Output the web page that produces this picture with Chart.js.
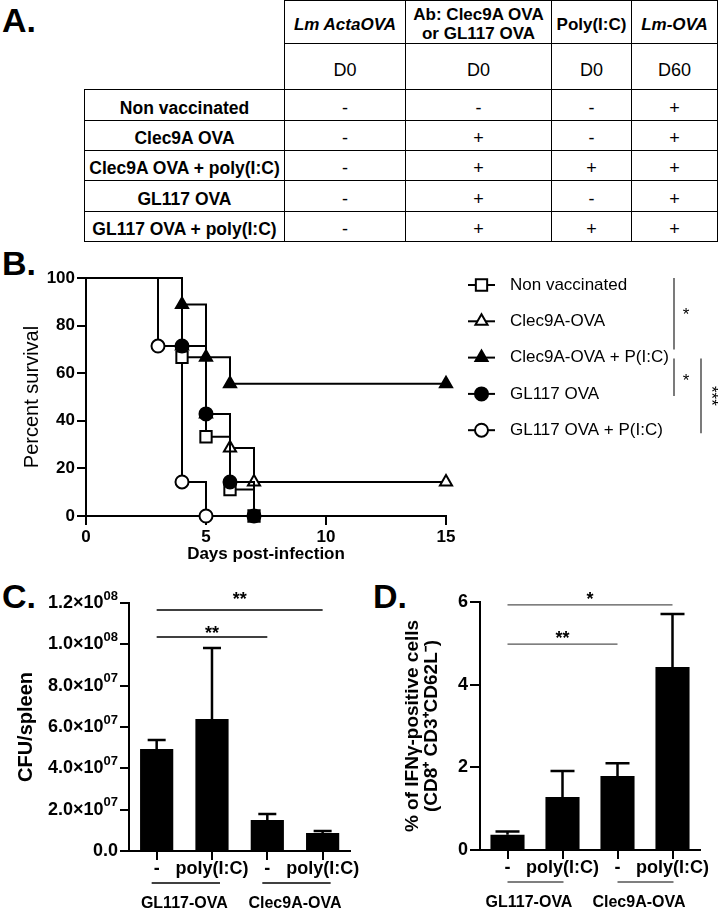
<!DOCTYPE html>
<html>
<head>
<meta charset="utf-8">
<script src="https://cdn.jsdelivr.net/npm/chart.js@4.4.1/dist/chart.umd.min.js"></script>
<style>
body { margin: 0; background: #fff; }
#page { position: relative; width: 719px; height: 910px; overflow: hidden;
        font-family: "Liberation Sans", Arial, sans-serif; color: #000; }
.letter { position: absolute; font-size: 34px; font-weight: bold; line-height: 1; }
canvas { position: absolute; }
#tbl { position: absolute; left: 84px; top: 0; border-collapse: collapse; table-layout: fixed; }
#tbl td { border: 1px solid #000; text-align: center; padding: 6px 0 0 0; font-size: 18px; line-height: 21px; }
#tbl td.blank { border: none; }
#tbl tr.head td { font-weight: bold; font-size: 17px; line-height: 19px; white-space: pre-line; padding-top: 4px; }
#tbl tr.days td { padding-top: 8px; }
#tbl td.group { font-weight: bold; font-size: 17.5px; white-space: nowrap; }
</style>
</head>
<body>
<div id="page">
  <div class="letter" style="left:2px;top:3px">A.</div>
  <div class="letter" style="left:2px;top:246px">B.</div>
  <div class="letter" style="left:2px;top:579px">C.</div>
  <div class="letter" style="left:373px;top:579px">D.</div>
  <table id="tbl"></table>
  <canvas id="km" width="719" height="320" style="left:0;top:250px"></canvas>
  <canvas id="cfu" width="360" height="340" style="left:0;top:570px"></canvas>
  <canvas id="ifn" width="359" height="340" style="left:360px;top:570px"></canvas>
</div>
<script>
// A. vaccination scheme
var tableHeads = ['Lm ActaOVA', 'Ab: Clec9A OVA\nor GL117 OVA', 'Poly(I:C)', 'Lm-OVA'];
var tableItalic = [true, false, false, true];
var tableDays = ['D0', 'D0', 'D0', 'D60'];
var tableGroups = ['Non vaccinated', 'Clec9A OVA', 'Clec9A OVA + poly(I:C)', 'GL117 OVA', 'GL117 OVA + poly(I:C)'];
var tableMarks = [
  ['-', '-', '-', '+'],
  ['-', '+', '-', '+'],
  ['-', '+', '+', '+'],
  ['-', '+', '-', '+'],
  ['-', '+', '+', '+']
];

// B. survival (Kaplan-Meier steps)
var kmLabels = ['Non vaccinated', 'Clec9A-OVA', 'Clec9A-OVA + P(I:C)', 'GL117 OVA', 'GL117 OVA + P(I:C)'];
var daysNonVacc = [0, 4, 5, 6, 7];
var survNonVacc = [100, 66.7, 33.3, 11.1, 0];
var daysClec = [0, 4, 5, 6, 7, 15];
var survClec = [100, 71.4, 42.9, 28.6, 14.3, 14.3];
var daysClecPIC = [0, 4, 5, 6, 15];
var survClecPIC = [100, 88.9, 66.7, 55.6, 55.6];
var daysGL = [0, 4, 5, 6, 7];
var survGL = [100, 71.4, 42.9, 14.3, 0];
var daysGLPIC = [0, 3, 4, 5];
var survGLPIC = [100, 71.4, 14.3, 0];

// C. / D. bars
var barLabels = ['-', 'poly(I:C)', '-', 'poly(I:C)'];
var barGroups = ['GL117-OVA', 'Clec9A-OVA'];
var cfuMean = [4.93e7, 6.39e7, 1.50e7, 0.87e7];
var cfuSem = [0.44e7, 3.43e7, 0.29e7, 0.10e7];
var ifnMean = [0.37, 1.28, 1.79, 4.43];
var ifnSem = [0.08, 0.63, 0.31, 1.28];

var cfuSig = [{from: 0, to: 3, level: 1.166e8, text: '**', lift: 15},
              {from: 0, to: 2, level: 1.035e8, text: '**', lift: 9}];
var ifnSig = [{from: 0, to: 3, level: 5.93, text: '*', lift: 10},
              {from: 0, to: 2, level: 4.98, text: '**', lift: 11}];

var fam = '"Liberation Sans", Arial, sans-serif';
Chart.defaults.font.family = fam;
Chart.defaults.color = '#000';

// table
var tbl = document.getElementById('tbl');
var colW = [200, 121, 146, 80, 86];
var cg = document.createElement('colgroup');
colW.forEach(function (w) {
  var c = document.createElement('col');
  c.style.width = w + 'px';
  cg.appendChild(c);
});
tbl.appendChild(cg);

function addRow(cells, h, cls, firstCls) {
  var tr = document.createElement('tr');
  tr.style.height = h + 'px';
  if (cls) tr.className = cls;
  cells.forEach(function (txt, i) {
    var td = document.createElement('td');
    td.textContent = txt;
    if (i === 0 && firstCls) td.className = firstCls;
    if (cls === 'head' && i > 0 && tableItalic[i - 1]) td.style.fontStyle = 'italic';
    tr.appendChild(td);
  });
  tbl.appendChild(tr);
}
addRow([''].concat(tableHeads), 43, 'head', 'blank');
addRow([''].concat(tableDays), 46, 'days', 'blank');
var rowH = [31, 30, 30, 31, 30];
tableGroups.forEach(function (g, i) {
  addRow([g].concat(tableMarks[i]), rowH[i], '', 'group');
});

// B
function kmSet(label, days, surv, style, size, filled, order) {
  return {
    label: label,
    data: days.map(function (d, i) { return {x: d, y: surv[i]}; }),
    stepped: true,
    borderColor: '#000',
    borderWidth: 2,
    pointStyle: style,
    pointRadius: days.map(function (d, i) { return i === 0 ? 0 : size; }),
    pointBackgroundColor: filled ? '#000' : '#fff',
    pointBorderColor: '#000',
    pointBorderWidth: 2,
    clip: false,
    order: order
  };
}

function marker(ctx, style, r, x, y) {
  if (Chart.helpers && Chart.helpers.drawPoint) {
    Chart.helpers.drawPoint(ctx, {pointStyle: style, radius: r, borderWidth: 2, rotation: 0}, x, y);
  }
}

var legendY0 = 35, legendStep = 36.3;
function legendY(i) { return legendY0 + i * legendStep; }
var kmSig = [
  {x: 674, y0: legendY(0) - 7, y1: legendY(2) - 8, tx: 686, ty: legendY(0) + 27, text: '*', rot: false},
  {x: 674, y0: legendY(2) + 1, y1: legendY(3) + 2, tx: 686, ty: legendY(2) + 21, text: '*', rot: false},
  {x: 701, y0: legendY(2) + 1, y1: legendY(4) + 3, tx: 714, ty: legendY(3) + 2, text: '***', rot: true}
];

var kmLegend = {
  id: 'kmLegend',
  afterDraw: function (chart) {
    var ctx = chart.ctx;
    ctx.save();
    chart.data.datasets.forEach(function (ds, i) {
      var y = legendY(i);
      ctx.strokeStyle = '#000';
      ctx.lineWidth = 2;
      ctx.beginPath();
      ctx.moveTo(468, y);
      ctx.lineTo(495, y);
      ctx.stroke();
      ctx.fillStyle = ds.pointBackgroundColor;
      marker(ctx, ds.pointStyle, ds.pointRadius[1], 481.5, y);
      ctx.fillStyle = '#000';
      ctx.font = '17px ' + fam;
      ctx.textAlign = 'left';
      ctx.textBaseline = 'middle';
      ctx.fillText(ds.label, 510, y);
    });
    ctx.strokeStyle = '#333';
    ctx.lineWidth = 1.3;
    kmSig.forEach(function (s) {
      ctx.beginPath();
      ctx.moveTo(s.x, s.y0);
      ctx.lineTo(s.x, s.y1);
      ctx.stroke();
      ctx.save();
      ctx.translate(s.tx, s.ty);
      if (s.rot) ctx.rotate(Math.PI / 2);
      ctx.font = '17px ' + fam;
      ctx.textAlign = 'center';
      ctx.textBaseline = 'middle';
      ctx.fillText(s.text, 0, 3);
      ctx.restore();
    });
    ctx.restore();
  }
};

new Chart(document.getElementById('km'), {
  type: 'line',
  data: {
    datasets: [
      kmSet(kmLabels[0], daysNonVacc, survNonVacc, 'rect', 8, false, 2),
      kmSet(kmLabels[1], daysClec, survClec, 'triangle', 7, false, 5),
      kmSet(kmLabels[2], daysClecPIC, survClecPIC, 'triangle', 7, true, 3),
      kmSet(kmLabels[3], daysGL, survGL, 'circle', 6.5, true, 1),
      kmSet(kmLabels[4], daysGLPIC, survGLPIC, 'circle', 6.5, false, 4)
    ]
  },
  options: {
    responsive: false,
    animation: false,
    devicePixelRatio: 1,
    layout: {padding: {left: 0, top: 28, right: 273, bottom: 0}},
    plugins: {legend: {display: false}, tooltip: {enabled: false}},
    scales: {
      x: {
        type: 'linear', min: 0, max: 15,
        ticks: {stepSize: 5, font: {size: 17, weight: 'bold', lineHeight: 1}, padding: 4, color: '#000'},
        grid: {drawOnChartArea: false, tickLength: 9, color: '#000', lineWidth: 2},
        border: {color: '#000', width: 2},
        title: {display: true, text: 'Days post-infection', font: {size: 17, weight: 'bold'}, padding: {top: 0, bottom: 5}, color: '#000'},
        afterFit: function (s) { s.height = 54; }
      },
      y: {
        min: 0, max: 100,
        ticks: {stepSize: 20, font: {size: 17, weight: 'bold'}, padding: 2, color: '#000'},
        grid: {drawOnChartArea: false, tickLength: 9, color: '#000', lineWidth: 2},
        border: {color: '#000', width: 2},
        title: {display: true, text: 'Percent survival', font: {size: 20}, padding: {top: 20, bottom: 0}, color: '#000'},
        afterFit: function (s) { s.width = 86; }
      }
    }
  },
  plugins: [kmLegend]
});

// bar helpers
function errorBars(sem, cap) {
  return {
    id: 'errorBars',
    afterDatasetsDraw: function (chart) {
      var ctx = chart.ctx, y = chart.scales.y, ds = chart.data.datasets[0];
      ctx.save();
      ctx.strokeStyle = '#000';
      ctx.lineWidth = 2.5;
      chart.getDatasetMeta(0).data.forEach(function (bar, i) {
        var top = y.getPixelForValue(ds.data[i] + sem[i]);
        ctx.beginPath();
        ctx.moveTo(bar.x, bar.y);
        ctx.lineTo(bar.x, top);
        ctx.moveTo(bar.x - cap, top);
        ctx.lineTo(bar.x + cap, top);
        ctx.stroke();
      });
      ctx.restore();
    }
  };
}

function brackets(list, lineColor, lineW) {
  return {
    id: 'brackets',
    afterDraw: function (chart) {
      var ctx = chart.ctx, y = chart.scales.y, meta = chart.getDatasetMeta(0);
      ctx.save();
      list.forEach(function (b) {
        var x0 = meta.data[b.from].x, x1 = meta.data[b.to].x, py = y.getPixelForValue(b.level);
        ctx.strokeStyle = lineColor;
        ctx.lineWidth = lineW;
        ctx.beginPath();
        ctx.moveTo(x0, py);
        ctx.lineTo(x1, py);
        ctx.stroke();
        ctx.fillStyle = '#000';
        ctx.font = 'bold 18px ' + fam;
        ctx.textAlign = 'center';
        ctx.textBaseline = 'alphabetic';
        ctx.fillText(b.text, (x0 + x1) / 2, py - b.lift + 10.4);
      });
      ctx.restore();
    }
  };
}

function groupLabels(names, lineColor, padL, padR, shift) {
  return {
    id: 'groupLabels',
    afterDraw: function (chart) {
      var ctx = chart.ctx, meta = chart.getDatasetMeta(0), bottom = chart.chartArea.bottom;
      ctx.save();
      names.forEach(function (name, g) {
        var a = meta.data[g * 2].x, b = meta.data[g * 2 + 1].x;
        ctx.strokeStyle = lineColor;
        ctx.lineWidth = 1.3;
        ctx.beginPath();
        ctx.moveTo(a + padL, bottom + 32);
        ctx.lineTo(b + padR, bottom + 32);
        ctx.stroke();
        ctx.fillStyle = '#000';
        ctx.font = 'bold 16px ' + fam;
        ctx.textAlign = 'center';
        ctx.textBaseline = 'middle';
        ctx.fillText(name, (a + b) / 2 + shift, bottom + 53);
      });
      ctx.restore();
    }
  };
}

var sciTicks = {
  id: 'sciTicks',
  afterDraw: function (chart) {
    var s = chart.scales.y, ctx = chart.ctx;
    ctx.save();
    ctx.fillStyle = '#000';
    ctx.textAlign = 'left';
    ctx.textBaseline = 'middle';
    s.ticks.forEach(function (t) {
      var y = s.getPixelForValue(t.value), right = s.right - 11;
      var base, sup = '';
      if (t.value === 0) {
        base = '0.0';
      } else {
        var e = Math.floor(Math.log10(t.value) + 1e-9);
        base = (t.value / Math.pow(10, e)).toFixed(1) + '×10';
        sup = (e < 10 ? '0' : '') + e;
      }
      ctx.font = 'bold 18px ' + fam;
      var wb = ctx.measureText(base).width;
      ctx.font = 'bold 13px ' + fam;
      var ws = ctx.measureText(sup).width;
      ctx.font = 'bold 18px ' + fam;
      ctx.fillText(base, right - wb - ws, y);
      ctx.font = 'bold 13px ' + fam;
      ctx.fillText(sup, right - ws, y - 7);
    });
    ctx.restore();
  }
};

function barOptions(opt) {
  return {
    responsive: false,
    animation: false,
    devicePixelRatio: 1,
    layout: {padding: {left: 0, top: opt.top, right: opt.right, bottom: 0}},
    plugins: {legend: {display: false}, tooltip: {enabled: false}},
    scales: {
      x: {
        ticks: {font: {size: 18, weight: 'bold', lineHeight: 1}, padding: 0, color: '#000', maxRotation: 0, autoSkip: false},
        grid: {drawOnChartArea: false, offset: false, tickLength: 9, color: '#000', lineWidth: 2},
        border: {color: '#000', width: 2},
        afterFit: function (s) { s.height = opt.xh; }
      },
      y: {
        min: 0, max: opt.max,
        ticks: {stepSize: opt.step, display: opt.showTicks, font: {size: 18, weight: 'bold'}, padding: 2, color: '#000'},
        grid: {drawOnChartArea: false, tickLength: opt.tl, color: '#000', lineWidth: 2},
        border: {color: '#000', width: 2},
        title: {display: true, text: opt.title, font: {size: opt.titleSize, weight: 'bold', lineHeight: opt.titleLH}, padding: {top: opt.titlePad, bottom: 0}, color: '#000'},
        afterFit: function (s) { s.width = opt.yw; }
      }
    }
  };
}

// C
new Chart(document.getElementById('cfu'), {
  type: 'bar',
  data: {labels: barLabels, datasets: [{data: cfuMean, backgroundColor: '#000', barPercentage: 0.6, categoryPercentage: 1}]},
  options: barOptions({top: 33, right: 7, xh: 59, yw: 129, max: 1.2e8, step: 2e7, showTicks: false, tl: 9,
                       title: 'CFU/spleen', titleSize: 20, titleLH: 1.2, titlePad: 14}),
  plugins: [errorBars(cfuSem, 9), brackets(cfuSig, '#000', 1.5), groupLabels(barGroups, '#000', -5, 8, 0), sciTicks]
});

// D
new Chart(document.getElementById('ifn'), {
  type: 'bar',
  data: {labels: barLabels, datasets: [{data: ifnMean, backgroundColor: '#000', barPercentage: 0.62, categoryPercentage: 1}]},
  options: barOptions({top: 32, right: 19, xh: 60, yw: 120, max: 6, step: 2, showTicks: true, tl: 10,
                       title: ['% of IFNγ-positive cells', '(CD8⁺ CD3⁺CD62L⁻)'], titleSize: 19, titleLH: 1, titlePad: 43}),
  plugins: [errorBars(ifnSem, 12), brackets(ifnSig, '#555', 1.3), groupLabels(barGroups, '#555', 0, 1, -6)]
});
</script>
</body>
</html>
